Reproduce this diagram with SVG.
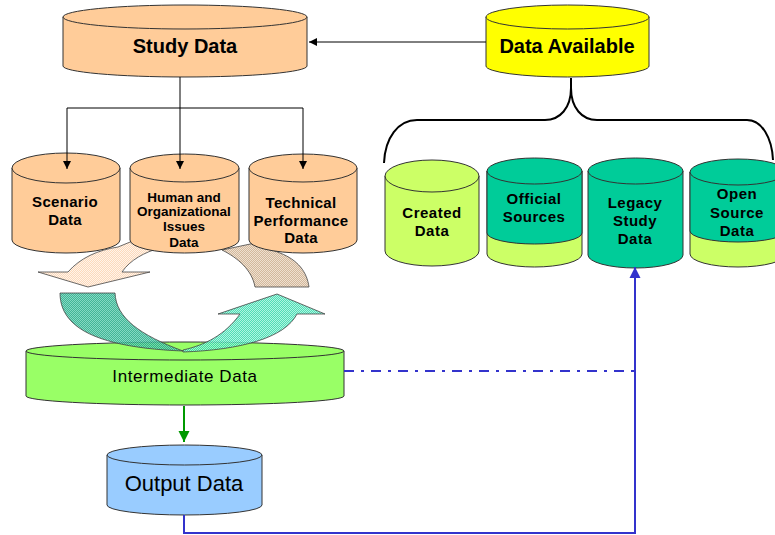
<svg xmlns="http://www.w3.org/2000/svg" width="775" height="535" viewBox="0 0 775 535">
  <defs>
    <style>
      .cyl { stroke: #333333; stroke-width: 1; }
      .orange { fill: #ffcc99; }
      .yellow { fill: #ffff00; }
      .lime { fill: #ccff66; }
      .teal { fill: #00cc99; }
      .green { fill: #99ff66; }
      .blue { fill: #99ccff; }
      .lbl { font-family: "Liberation Sans", Arial, sans-serif; text-anchor: middle; fill: #000; }
      .b20 { font-size: 20px; font-weight: bold; }
      .b15 { font-size: 15px; font-weight: bold; }
      .b13 { font-size: 13.5px; font-weight: bold; }
      .conn { fill: none; stroke: #000; stroke-width: 1; }
      .bl { fill: none; stroke: #3333cc; stroke-width: 2; }
      .curve { stroke: #444444; stroke-width: 0.8; }
    </style>
    <marker id="ah" viewBox="0 0 10 10" refX="10" refY="5" markerWidth="9" markerHeight="8" markerUnits="userSpaceOnUse" orient="auto">
      <path d="M0,0 L10,5 L0,10 Z" fill="#000"/>
    </marker>
    <marker id="ahBlue" viewBox="0 0 10 10" refX="10" refY="5" markerWidth="11" markerHeight="12" markerUnits="userSpaceOnUse" orient="auto">
      <path d="M0,0 L10,5 L0,10 Z" fill="#3333cc"/>
    </marker>
    <marker id="ahGreen" viewBox="0 0 10 10" refX="10" refY="5" markerWidth="11" markerHeight="12" markerUnits="userSpaceOnUse" orient="auto">
      <path d="M0,0 L10,5 L0,10 Z" fill="#009900"/>
    </marker>
    <!-- dithered fills for the curved flow arrows -->
    <pattern id="hPeach" width="2" height="2" patternUnits="userSpaceOnUse">
      <rect width="2" height="2" fill="#fcd9bb"/>
      <rect width="1" height="1" fill="#fff4ea"/>
      <rect x="1" y="1" width="1" height="1" fill="#fff4ea"/>
    </pattern>
    <pattern id="hTan" width="2" height="2" patternUnits="userSpaceOnUse">
      <rect width="2" height="2" fill="#d2b89c"/>
      <rect width="1" height="1" fill="#efe0d0"/>
      <rect x="1" y="1" width="1" height="1" fill="#efe0d0"/>
    </pattern>
    <pattern id="hTealDark" width="2" height="2" patternUnits="userSpaceOnUse">
      <rect width="2" height="2" fill="#22a884"/>
      <rect width="1" height="1" fill="#6fd2b8"/>
      <rect x="1" y="1" width="1" height="1" fill="#6fd2b8"/>
    </pattern>
    <pattern id="hTealLight" width="2" height="2" patternUnits="userSpaceOnUse">
      <rect width="2" height="2" fill="#33d6a8"/>
      <rect width="1" height="1" fill="#a0f4dc"/>
      <rect x="1" y="1" width="1" height="1" fill="#a0f4dc"/>
    </pattern>
  </defs>

  <rect width="775" height="535" fill="#ffffff"/>

  <!-- Intermediate store -->
  <g id="intermediate-data">
    <path class="cyl green" d="M26,351 V396 A159,9 0 0 0 344,396 V351 Z"/>
    <ellipse class="cyl green" cx="185" cy="351" rx="159" ry="9"/>
    <text class="lbl" x="185" y="382" font-size="17" letter-spacing="0.6">Intermediate Data</text>
  </g>

  <!-- Processing cycle arrows -->
  <g id="cycle-arrows">
    <path class="curve" fill="url(#hTealDark)" fill-opacity="0.85" d="M60,293 H115 C116,318 140,335 183,351 C130,349 90,340 72,322 C63,313 60,303 60,293 Z"/>
    <path class="curve" fill="url(#hTealLight)" fill-opacity="0.85" d="M183,352 C240,350 285,338 297,314 L325,314 L277,294 L218,314 L240,314 C225,335 205,345 183,350 Z"/>
    <path class="curve" fill="url(#hPeach)" d="M68,272 C80,258 98,250 118,247 L135,240 L160,248 C145,252 130,260 122,272 L150,272 L88,287 L38,272 Z"/>
    <path class="curve" fill="url(#hTan)" d="M222,250 C238,258 252,270 255,287 L309,287 C307,272 298,260 280,253 L255,243 Z"/>
  </g>

  <!-- Study data stores -->
  <g id="study-data">
    <path class="cyl orange" d="M63,17 V66 A122,11 0 0 0 307,66 V17 Z"/>
    <ellipse class="cyl orange" cx="185" cy="17" rx="122" ry="12"/>
    <text class="lbl b20" x="185" y="53">Study Data</text>
  </g>

  <g id="scenario-data">
    <path class="cyl orange" d="M12,168 V240 A54,13 0 0 0 120,240 V168 Z"/>
    <ellipse class="cyl orange" cx="66" cy="168" rx="54" ry="15"/>
    <text class="lbl b15" x="65" y="207" letter-spacing="0.3">Scenario</text>
    <text class="lbl b15" x="65" y="225" letter-spacing="0.3">Data</text>
  </g>

  <g id="human-org-data">
    <path class="cyl orange" d="M130,168 V240 A54.5,13 0 0 0 239,240 V168 Z"/>
    <ellipse class="cyl orange" cx="184.5" cy="168" rx="54.5" ry="14"/>
    <text class="lbl b13" x="184" y="202">Human and</text>
    <text class="lbl b13" x="184" y="216">Organizational</text>
    <text class="lbl b13" x="184" y="231">Issues</text>
    <text class="lbl b13" x="184" y="247">Data</text>
  </g>

  <g id="technical-data">
    <path class="cyl orange" d="M249,168 V240 A54,13 0 0 0 357,240 V168 Z"/>
    <ellipse class="cyl orange" cx="303" cy="168" rx="54" ry="14"/>
    <text class="lbl b15" x="301" y="208" letter-spacing="0.3">Technical</text>
    <text class="lbl b15" x="301" y="226" letter-spacing="0.3">Performance</text>
    <text class="lbl b15" x="301" y="243" letter-spacing="0.3">Data</text>
  </g>

  <!-- Available data stores -->
  <g id="data-available">
    <path class="cyl yellow" d="M486,17 V66 A81.5,11 0 0 0 649,66 V17 Z"/>
    <ellipse class="cyl yellow" cx="567.5" cy="17" rx="81.5" ry="12"/>
    <text class="lbl b20" x="567" y="53">Data Available</text>
  </g>

  <g id="created-data">
    <path class="cyl lime" d="M385,176 V251 A47,15 0 0 0 479,251 V176 Z"/>
    <ellipse class="cyl lime" cx="432" cy="176" rx="47" ry="16"/>
    <text class="lbl b15" x="432" y="218" letter-spacing="0.5">Created</text>
    <text class="lbl b15" x="432" y="236" letter-spacing="0.5">Data</text>
  </g>

  <g id="official-sources">
    <path class="cyl lime" d="M487,171 V254 A47.5,13 0 0 0 582,254 V171 Z"/>
    <path class="cyl teal" d="M487,171 V233 A47.5,11 0 0 0 582,233 V171 Z"/>
    <ellipse class="cyl teal" cx="534.5" cy="171" rx="47.5" ry="13"/>
    <text class="lbl b15" x="534" y="204" letter-spacing="0.5">Official</text>
    <text class="lbl b15" x="534" y="222" letter-spacing="0.5">Sources</text>
  </g>

  <g id="legacy-study-data">
    <path class="cyl teal" d="M588,171 V255 A47.5,13 0 0 0 683,255 V171 Z"/>
    <ellipse class="cyl teal" cx="635.5" cy="171" rx="47.5" ry="13"/>
    <text class="lbl b15" x="635" y="208" letter-spacing="0.5">Legacy</text>
    <text class="lbl b15" x="635" y="226" letter-spacing="0.5">Study</text>
    <text class="lbl b15" x="635" y="244" letter-spacing="0.5">Data</text>
  </g>

  <g id="open-source-data">
    <path class="cyl lime" d="M690,172 V254 A48,13 0 0 0 786,254 V172 Z"/>
    <path class="cyl teal" d="M690,172 V231 A48,11 0 0 0 786,231 V172 Z"/>
    <ellipse class="cyl teal" cx="738" cy="172" rx="48" ry="13"/>
    <text class="lbl b15" x="737" y="199" letter-spacing="0.5">Open</text>
    <text class="lbl b15" x="737" y="218" letter-spacing="0.5">Source</text>
    <text class="lbl b15" x="737" y="236" letter-spacing="0.5">Data</text>
  </g>

  <!-- Output store -->
  <g id="output-data">
    <path class="cyl blue" d="M107,455 V505 A77.5,10 0 0 0 262,505 V455 Z"/>
    <ellipse class="cyl blue" cx="184.5" cy="455" rx="77.5" ry="10"/>
    <text class="lbl" x="184" y="491" font-size="22">Output Data</text>
  </g>

  <!-- Connectors -->
  <g id="connectors">
    <line class="conn" x1="486" y1="42" x2="309" y2="42" marker-end="url(#ah)"/>
    <path class="conn" d="M180,77 V108 M67,108 H303"/>
    <line class="conn" x1="67" y1="108" x2="67" y2="169" marker-end="url(#ah)"/>
    <line class="conn" x1="180" y1="108" x2="180" y2="169" marker-end="url(#ah)"/>
    <line class="conn" x1="303" y1="108" x2="303" y2="169" marker-end="url(#ah)"/>
    <!-- brace grouping the available sources -->
    <path fill="none" stroke="#000" stroke-width="2" d="M571,78 V88 C571,108 560,120 545,120 H417 C398,120 385,138 384,163"/>
    <path fill="none" stroke="#000" stroke-width="2" d="M571,88 C571,108 582,120 597,120 H747 C762,120 772,138 773,160"/>
    <line x1="184" y1="406" x2="184" y2="442" stroke="#009900" stroke-width="2" marker-end="url(#ahGreen)"/>
    <line class="bl" x1="344" y1="371" x2="635" y2="371" stroke-dasharray="10 7 3 7"/>
    <path class="bl" d="M184,515 V533 H635 V267" marker-end="url(#ahBlue)"/>
  </g>
</svg>
